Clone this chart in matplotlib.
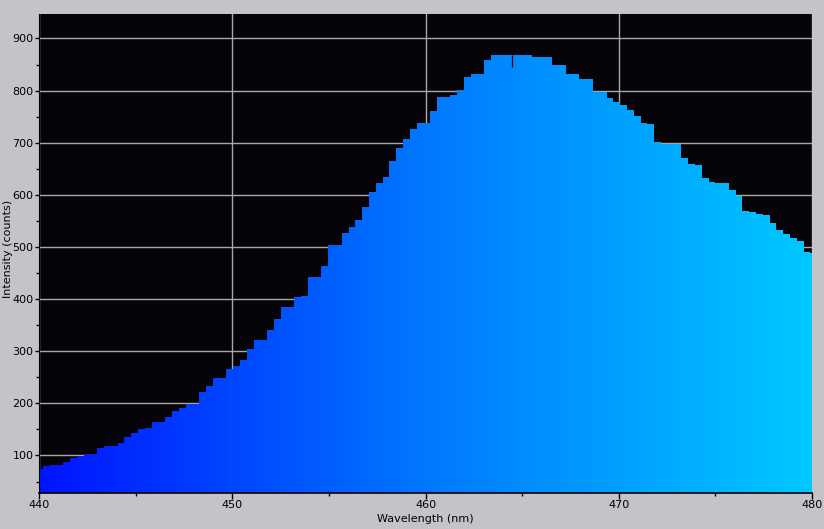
import numpy as np
import matplotlib
matplotlib.use('Agg')
import matplotlib.pyplot as plt
from matplotlib.colors import LinearSegmentedColormap
from matplotlib.ticker import MultipleLocator

# spectrum data: detector bins starting at wl_first, spaced wl_step nm
wl_first = 439.856
wl_step = 0.3514
counts = [74, 79, 81, 81, 88, 95, 99, 103, 103, 114,
          118, 118, 124, 135, 143, 151, 152, 164, 164, 174,
          185, 191, 199, 199, 222, 233, 249, 249, 266, 271,
          283, 304, 322, 322, 341, 362, 385, 385, 404, 406,
          443, 443, 464, 504, 504, 527, 539, 552, 577, 606,
          623, 635, 665, 690, 708, 727, 737, 737, 760, 787,
          787, 792, 802, 827, 831, 831, 858, 869, 869, 869,
          869, 869, 869, 865, 865, 865, 850, 850, 831, 831,
          823, 823, 798, 798, 785, 779, 773, 762, 752, 737,
          735, 702, 698, 698, 698, 671, 660, 658, 633, 625,
          623, 623, 610, 598, 569, 568, 564, 562, 546, 533,
          524, 518, 512, 491, 489]

# single-column dropout near the peak
notch_wl = [464.50]
notch_low = [846]
notch_high = [869]

x_ticks = [440, 450, 460, 470, 480]
y_ticks = [100, 200, 300, 400, 500, 600, 700, 800, 900]

edges = wl_first + wl_step * np.arange(len(counts) + 1)

fig = plt.figure(figsize=(8.24, 5.29), dpi=100, facecolor='#c4c4c8')
ax = fig.add_axes([39 / 824, 36 / 529, 773 / 824, 479 / 529])
ax.set_facecolor('#060408')

# step outline used as clip for the colour gradient
steps = ax.stairs(counts, edges, fill=True, baseline=0, color='none', zorder=2)

spec = LinearSegmentedColormap.from_list('spec', ['#0014ff', '#0078ff', '#00c8ff'])
grad = np.linspace(0, 1, 512).reshape(1, -1)
im = ax.imshow(grad, extent=[440, 480, 0, 1000], aspect='auto', cmap=spec,
               interpolation='bilinear', zorder=2)
im.set_clip_path(steps)

ax.vlines(notch_wl, notch_low, notch_high, color='#060408', linewidth=0.9, zorder=3)

ax.set_xlim(440, 480)
ax.set_ylim(28, 947)

ax.set_xticks(x_ticks)
ax.set_yticks(y_ticks)
ax.xaxis.set_minor_locator(MultipleLocator(5))
ax.yaxis.set_minor_locator(MultipleLocator(50))
ax.grid(True, which='major', color='#a8a8a8', linewidth=1)
ax.set_axisbelow(True)

ax.tick_params(which='major', direction='out', length=4, width=1, color='black',
               labelsize=8, pad=1)
ax.tick_params(axis='y', which='major', length=3, pad=1)
ax.tick_params(which='minor', direction='out', length=2, width=1, color='black')

for side in ['top', 'right']:
    ax.spines[side].set_visible(False)
ax.spines['left'].set_color('black')
ax.spines['bottom'].set_color('black')
ax.spines['bottom'].set_linewidth(1.2)

ax.set_xlabel('Wavelength (nm)', fontsize=8, labelpad=3)
ax.set_ylabel('Intensity (counts)', fontsize=8, va='center')
ax.yaxis.set_label_coords(-0.0395, 0.51)

fig.savefig('out.png', dpi=100, facecolor=fig.get_facecolor())
